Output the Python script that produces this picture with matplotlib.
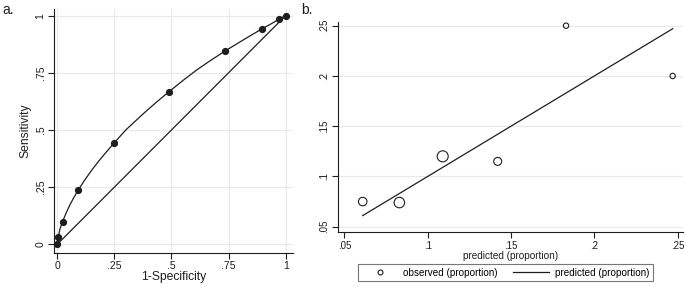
import numpy as np
import matplotlib
matplotlib.use("Agg")
import matplotlib.pyplot as plt
from matplotlib.lines import Line2D

plt.rcParams['font.family'] = ['Liberation Sans', 'DejaVu Sans']

# panel a: ROC points
fpr = [0.0, 0.004, 0.023, 0.091, 0.248, 0.489, 0.733, 0.898, 0.972, 1.0]
sens = [0.0, 0.031, 0.099, 0.236, 0.442, 0.667, 0.844, 0.943, 0.985, 1.0]
# fitted ROC curve
fit_fpr = [0.0, 0.004, 0.012, 0.023, 0.04, 0.055, 0.07, 0.091, 0.12, 0.15, 0.18,
           0.21, 0.248, 0.3, 0.37, 0.43, 0.489, 0.55, 0.61, 0.67, 0.733, 0.82,
           0.898, 0.94, 0.972, 1.0]
fit_sens = [0.0, 0.031, 0.068, 0.099, 0.14, 0.172, 0.2, 0.236, 0.281, 0.323, 0.362,
            0.398, 0.442, 0.5, 0.565, 0.618, 0.667, 0.716, 0.762, 0.803, 0.844, 0.897,
            0.943, 0.966, 0.985, 1.0]
roc_ticks = [0, 0.25, 0.5, 0.75, 1]
roc_labels = ['0', '.25', '.5', '.75', '1']

# panel b: calibration
predicted = [0.061, 0.083, 0.109, 0.142, 0.183, 0.247]
observed = [0.075, 0.074, 0.120, 0.115, 0.250, 0.200]
counts = [25, 38, 42, 22, 10, 10]
cal_ticks = [0.05, 0.1, 0.15, 0.2, 0.25]
cal_labels = ['.05', '.1', '.15', '.2', '.25']

ink = '#1e1e1e'
grid = '#e9e9e9'

fig = plt.figure(figsize=(6.85, 2.87), dpi=100)

# ---- a ----
ax1 = fig.add_axes([0.0788, 0.1185, 0.3489, 0.8495])
ax1.plot([0, 1], [0, 1], color=ink, lw=0.9)
ax1.plot(fit_fpr, fit_sens, color=ink, lw=0.9)
ax1.plot(fpr, sens, ls='none', color=ink, marker='o', ms=4.2)
ax1.set_xlim(-0.0145, 1.032)
ax1.set_ylim(-0.038, 1.028)
ax1.set_xticks(roc_ticks)
ax1.set_xticklabels(roc_labels)
ax1.set_yticks(roc_ticks)
ax1.set_yticklabels(roc_labels, rotation=90, va='center')
ax1.grid(True, color=grid, lw=0.8)
ax1.set_axisbelow(True)
ax1.set_xlabel('1-Specificity', fontsize=8.7, color=ink, labelpad=0)
ax1.set_ylabel('Sensitivity', fontsize=8.7, color=ink, labelpad=3)
ax1.tick_params(labelsize=7.6, colors=ink, length=4, width=0.8, pad=2)

# ---- b ----
ax2 = fig.add_axes([0.493, 0.1906, 0.5036, 0.7338])
ax2.scatter(predicted, observed, s=np.array(counts) * 1.5, facecolors='none',
            edgecolors=ink, linewidths=0.8, zorder=3)
ax2.plot(predicted, predicted, color=ink, lw=0.9)
ax2.set_xlim(0.046, 0.253)
ax2.set_ylim(0.0444, 0.254)
ax2.set_xticks(cal_ticks)
ax2.set_xticklabels(cal_labels)
ax2.set_yticks(cal_ticks)
ax2.set_yticklabels(cal_labels, rotation=90, va='center')
ax2.grid(True, axis='y', color=grid, lw=0.8)
ax2.set_axisbelow(True)
ax2.set_xlabel('predicted (proportion)', fontsize=7.2, color=ink, labelpad=0)
ax2.tick_params(labelsize=7.0, colors=ink, length=4, width=0.8, pad=2)

for ax in (ax1, ax2):
    ax.spines['top'].set_visible(False)
    ax.spines['right'].set_visible(False)
    ax.spines['left'].set_color(ink)
    ax.spines['bottom'].set_color(ink)
    ax.spines['left'].set_linewidth(0.8)
    ax.spines['bottom'].set_linewidth(0.8)

handles = [Line2D([], [], ls='none', marker='o', ms=3.5, mfc='none', mec=ink, mew=0.8),
           Line2D([], [], color=ink, lw=0.9)]
leg = fig.legend(handles, ['observed (proportion)', 'predicted (proportion)'],
                 loc='center', bbox_to_anchor=(0.738, 0.0505), ncol=2,
                 fontsize=7.1, frameon=True, fancybox=False, handlelength=3.6,
                 columnspacing=1.6, borderpad=0.35, handletextpad=0.6)
leg.get_frame().set_edgecolor('#555555')
leg.get_frame().set_linewidth(0.8)

fig.text(0.004, 0.965, 'a.', fontsize=10, color=ink, va='center')
fig.text(0.44, 0.965, 'b.', fontsize=10, color=ink, va='center')

fig.savefig('out.png', dpi=100, facecolor='white')
